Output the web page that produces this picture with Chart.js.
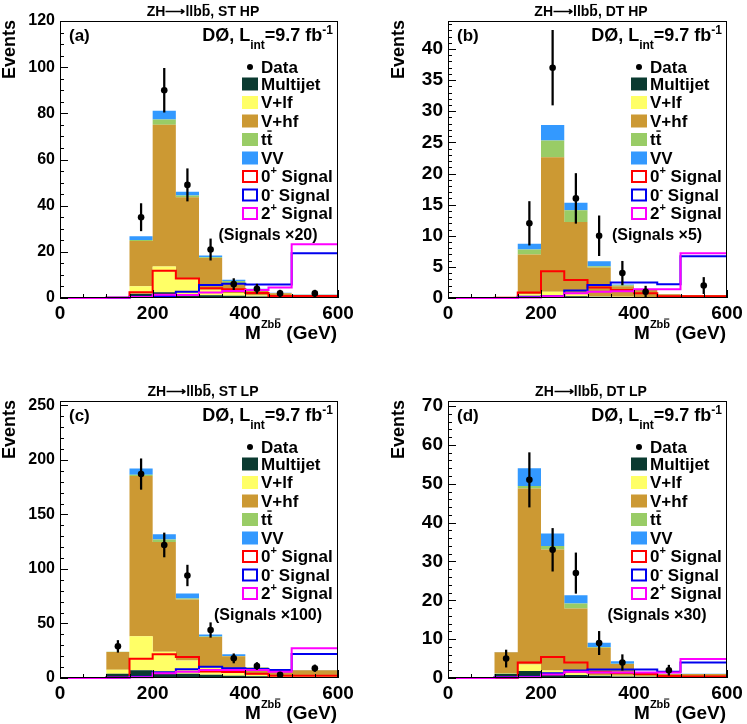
<!DOCTYPE html>
<html>
<head>
<meta charset="utf-8">
<script src="https://cdn.jsdelivr.net/npm/chart.js@4.4.0/dist/chart.umd.min.js"></script>
<style>
  html, body { margin:0; padding:0; background:#fff; }
  #page { position:relative; width:747px; height:724px; overflow:hidden; }
  canvas { position:absolute; }
</style>
</head>
<body>
<div id="page">
  <canvas id="pa" width="373" height="362" style="left:0;top:0"></canvas>
  <canvas id="pb" width="374" height="362" style="left:373px;top:0"></canvas>
  <canvas id="pc" width="373" height="362" style="left:0;top:362px"></canvas>
  <canvas id="pd" width="374" height="362" style="left:373px;top:362px"></canvas>
</div>
<script>
// bin edges of M(Zbb) in GeV, last bin is 100 GeV wide
const edges = [0, 50, 100, 150, 200, 250, 300, 350, 400, 450, 500, 600];

// (a) ST HP  -- backgrounds per bin
const aMultijet = [0, 0, 0.2, 1.8, 2.5, 1.7, 1.2, 1.0, 0.6, 0.4, 0.4];
const aVlf      = [0, 0, 0.1, 3.3, 11.2, 6.5, 2.4, 1.2, 0.5, 0.2, 0.2];
const aVhf      = [0, 0, 0.1, 19.6, 61.4, 35.4, 13.7, 4.0, 2.6, 1.5, 0.7];
const aTt       = [0, 0, 0, 0.4, 2.2, 0.8, 0.3, 1.2, 0.2, 0.1, 0.1];
const aVV       = [0, 0, 0, 1.6, 3.8, 1.6, 0.8, 0.5, 0.1, 0.1, 0.1];
const aSig0p    = [0, 0, 0.1, 2.5, 11.8, 8.5, 4.2, 3.8, 2.2, 0.9, 0.9];
const aSig0m    = [0, 0, 0.1, 0.5, 0.9, 2.7, 5.6, 6.2, 5.8, 5.9, 19.4];
const aSig2p    = [0, 0, 0.1, 0.4, 1.4, 1.3, 2.4, 3.0, 3.5, 4.5, 23.3];
const aDataX    = [175, 225, 275, 325, 375, 425, 475, 550];
const aDataY    = [35, 90, 49, 21, 6, 4, 2, 2];
const aDataErr  = [5.9, 9.5, 7, 4.6, 2.4, 2, 1.4, 1.4];

// (b) DT HP
const bMultijet = [0, 0, 0.05, 0.3, 0.4, 0.3, 0.2, 0.15, 0.1, 0.05, 0.05];
const bVlf      = [0, 0, 0, 0.3, 0.6, 0.3, 0.1, 0.05, 0.05, 0, 0];
const bVhf      = [0, 0, 0.05, 6.4, 21.6, 11.6, 4.6, 1.7, 1.15, 0.55, 0.45];
const bTt       = [0, 0, 0, 0.8, 2.7, 1.9, 0.2, 0.15, 0.05, 0, 0];
const bVV       = [0, 0, 0, 0.9, 2.5, 1.2, 0.8, 0.1, 0.05, 0.05, 0];
const bSig0p    = [0, 0, 0.05, 0.9, 4.3, 2.9, 1.7, 1.3, 0.75, 0.3, 0.3];
const bSig0m    = [0, 0, 0, 0.2, 0.3, 1.2, 2.1, 2.5, 2.5, 2.2, 6.7];
const bSig2p    = [0, 0, 0, 0.1, 0.3, 0.75, 1.0, 1.1, 1.4, 1.4, 7.2];
const bDataX    = [175, 225, 275, 325, 375, 425, 550];
const bDataY    = [12, 37, 16, 10, 4, 1, 2];
const bDataErr  = [3.5, 6, 4, 3.2, 1.9, 0.9, 1.3];

// (c) ST LP
const cMultijet = [0.3, 0.5, 4, 7, 4.6, 4, 3, 2, 1.5, 1, 1];
const cVlf      = [0.2, 0.2, 3.6, 31.2, 19.4, 12, 7, 3.5, 1.5, 1, 1];
const cVhf      = [0.3, 0.3, 16.3, 147.1, 100.8, 56, 27.6, 14.4, 6.5, 5, 5];
const cTt       = [0, 0, 0.1, 1.0, 2.2, 0.8, 0.5, 0.3, 0.3, 0.2, 0.2];
const cVV       = [0, 0, 0, 5.7, 4.8, 4.6, 1.9, 1.5, 0.2, 0.1, 0.1];
const cSig0p    = [0, 0, 0.5, 17.7, 21.7, 19.3, 6, 5.5, 4, 2, 2];
const cSig0m    = [0, 0, 0.5, 1.2, 5.2, 8, 10.4, 8.9, 8.3, 7.3, 22];
const cSig2p    = [0, 0, 0.3, 0.8, 4.3, 5.8, 7.3, 7.3, 7.3, 5.8, 27.2];
const cDataX    = [125, 175, 225, 275, 325, 375, 425, 475, 550];
const cDataY    = [29, 187, 122, 94, 44, 18, 11, 3, 9];
const cDataErr  = [5.4, 14, 11, 9.5, 6.7, 4.2, 3.2, 1.7, 3];

// (d) DT LP
const dMultijet = [0, 0.1, 1.1, 1.8, 1.1, 0.8, 0.6, 0.4, 0.3, 0.2, 0.2];
const dVlf      = [0, 0, 0.2, 1.7, 0.8, 0.4, 0.2, 0.2, 0.1, 0.1, 0.1];
const dVhf      = [0, 0, 5.3, 45.3, 31.2, 16.7, 7.0, 3.0, 1.0, 0.7, 0.7];
const dTt       = [0, 0, 0, 0.6, 0.9, 1.3, 0.2, 0.1, 0, 0, 0];
const dVV       = [0, 0, 0.1, 4.6, 3.2, 2.1, 1.1, 0.6, 0.1, 0.1, 0.1];
const dSig0p    = [0, 0, 0, 4.0, 5.4, 4.0, 1.5, 1.3, 1.0, 0.5, 0.4];
const dSig0m    = [0, 0, 0.2, 0.3, 1.2, 1.9, 2.2, 2.2, 2.2, 1.6, 4.0];
const dSig2p    = [0, 0, 0.1, 0.2, 0.9, 1.6, 1.4, 1.4, 1.4, 1.4, 4.9];
const dDataX    = [125, 175, 225, 275, 325, 375, 475];
const dDataY    = [5, 51, 33, 27, 9, 4, 2];
const dDataErr  = [2.2, 7, 5.5, 5.2, 3, 2, 1.3];

const FONT = '"Liberation Sans", Arial, Helvetica, sans-serif';
const stackColors = ['#0a3a30', '#ffff66', '#cc9933', '#99cc66', '#3399ff'];
const sigColors = { p0: '#ff0000', m0: '#0000ee', p2: '#ff00ff' };

const panels = [
  { id:'pa', tag:'(a)', sel:'ST HP', mult:'20', ymax:120, ystep:20, yminor:5, yfont:16,
    pad:{left:15, right:35, top:21, bottom:24}, evX:15,
    bg:[aMultijet, aVlf, aVhf, aTt, aVV], sig:[aSig0p, aSig0m, aSig2p], dx:aDataX, dy:aDataY, de:aDataErr },
  { id:'pb', tag:'(b)', sel:'DT HP', mult:'5', ymax:44.5, ystep:5, yminor:1, yfont:19,
    pad:{left:30, right:20, top:21, bottom:24}, evX:31,
    bg:[bMultijet, bVlf, bVhf, bTt, bVV], sig:[bSig0p, bSig0m, bSig2p], dx:bDataX, dy:bDataY, de:bDataErr },
  { id:'pc', tag:'(c)', sel:'ST LP', mult:'100', ymax:254, ystep:50, yminor:10, yfont:16,
    pad:{left:15, right:35, top:39, bottom:6}, evX:15,
    bg:[cMultijet, cVlf, cVhf, cTt, cVV], sig:[cSig0p, cSig0m, cSig2p], dx:cDataX, dy:cDataY, de:cDataErr },
  { id:'pd', tag:'(d)', sel:'DT LP', mult:'30', ymax:71.3, ystep:10, yminor:2, yfont:19,
    pad:{left:30, right:20, top:39, bottom:6}, evX:31,
    bg:[dMultijet, dVlf, dVhf, dTt, dVV], sig:[dSig0p, dSig0m, dSig2p], dx:dDataX, dy:dDataY, de:dDataErr }
];

// histogram -> step points: each bin's value at its left edge, last value repeated at 600
// (stepped:'before' keeps a point's value along the run to the next point)
function steps(vals){
  return edges.map((e, i) => ({ x: e, y: vals[Math.min(i, vals.length - 1)] }));
}

// running sums for the stacked backgrounds
function cumulate(layers){
  let run = layers[0].map(() => 0);
  return layers.map(l => { run = run.map((v, i) => v + l[i]); return run.slice(); });
}

// draw a run of text pieces (sizes, super/subscripts, overbars)
function rich(ctx, x, y, parts, align){
  let w = 0;
  parts.forEach(p => {
    ctx.font = 'bold ' + p.s + 'px ' + FONT;
    p.w = ctx.measureText(p.t).width;
    w += p.w;
  });
  let cx = align === 'right' ? x - w : align === 'center' ? x - w / 2 : x;
  ctx.textAlign = 'left';
  ctx.textBaseline = 'alphabetic';
  ctx.fillStyle = '#000';
  parts.forEach(p => {
    const yy = y + (p.dy || 0);
    ctx.font = 'bold ' + p.s + 'px ' + FONT;
    ctx.fillText(p.t, cx, yy);
    if (p.bar) ctx.fillRect(cx + p.w * 0.12, yy - p.s * 0.86, p.w * 0.76, Math.max(1, p.s * 0.08));
    cx += p.w;
  });
}

const overlay = {
  id: 'overlay',
  afterDraw(chart){
    const p = chart.options.plugins.overlay.panel;
    const ctx = chart.ctx;
    const { left: L, right: R, top: T, bottom: B } = chart.chartArea;
    const x = chart.scales.x, y = chart.scales.y;
    ctx.save();

    // frame + inward ticks
    ctx.strokeStyle = '#000';
    ctx.lineWidth = 1;
    ctx.strokeRect(L + 0.5, T + 0.5, R - L - 1, B - T - 1);
    ctx.beginPath();
    for (let v = 0; v <= 600; v += 50) {
      const px = Math.round(x.getPixelForValue(v)) + 0.5;
      ctx.moveTo(px, B);
      ctx.lineTo(px, B - (v % 200 === 0 ? 8 : 4));
    }
    for (let i = 0; i * p.yminor <= p.ymax; i++) {
      const v = i * p.yminor;
      const py = Math.round(y.getPixelForValue(v)) + 0.5;
      const major = Math.abs(v / p.ystep - Math.round(v / p.ystep)) < 1e-6;
      ctx.moveTo(L, py);
      ctx.lineTo(L + (major ? 8 : 4), py);
    }
    ctx.stroke();

    // title
    rich(ctx, L + 143, T - 5, [{t:'ZH\u27f6llb', s:14}, {t:'b', s:14, bar:true}, {t:', ' + p.sel, s:14}], 'center');
    // panel tag + experiment label
    rich(ctx, L + 9, T + 20, [{t:p.tag, s:17}], 'left');
    rich(ctx, R - 5, T + 20, [{t:'D\u00d8, L', s:18}, {t:'int', s:12, dy:8}, {t:'=9.7 fb', s:18}, {t:'-1', s:12, dy:-7}], 'right');

    // legend
    const bx = R - 96, tx = R - 77;
    ctx.fillStyle = '#000';
    ctx.beginPath();
    ctx.arc(R - 88, T + 46, 3, 0, Math.PI * 2);
    ctx.fill();
    rich(ctx, tx, T + 52, [{t:'Data', s:17}], 'left');
    const rows = [
      { c: stackColors[0], parts: [{t:'Multijet', s:17}] },
      { c: stackColors[1], parts: [{t:'V+lf', s:17}] },
      { c: stackColors[2], parts: [{t:'V+hf', s:17}] },
      { c: stackColors[3], parts: [{t:'t', s:17}, {t:'t', s:17, bar:true}] },
      { c: stackColors[4], parts: [{t:'VV', s:17}] },
      { line: sigColors.p0, parts: [{t:'0', s:17}, {t:'+', s:11, dy:-8}, {t:' Signal', s:17}] },
      { line: sigColors.m0, parts: [{t:'0', s:17}, {t:'-', s:11, dy:-8}, {t:' Signal', s:17}] },
      { line: sigColors.p2, parts: [{t:'2', s:17}, {t:'+', s:11, dy:-8}, {t:' Signal', s:17}] }
    ];
    rows.forEach((r, i) => {
      const cy = T + 62.5 + i * 18.5;
      if (r.line) {
        ctx.strokeStyle = r.line;
        ctx.lineWidth = 2;
        ctx.strokeRect(bx + 1, cy - 5, 14, 11);
      } else {
        ctx.fillStyle = r.c;
        ctx.fillRect(bx, cy - 6, 16, 13);
      }
      rich(ctx, tx, cy + 6, r.parts, 'left');
    });
    rich(ctx, R - 70, T + 219, [{t:'(Signals \u00d7' + p.mult + ')', s:16}], 'center');

    // axis titles
    rich(ctx, R - 1, B + 41, [{t:'M', s:19}, {t:'Zb', s:11, dy:-11}, {t:'b', s:11, dy:-11, bar:true}, {t:' (GeV)', s:19}], 'right');
    ctx.save();
    ctx.translate(p.evX, T - 1);
    ctx.rotate(-Math.PI / 2);
    ctx.font = 'bold 18px ' + FONT;
    ctx.textAlign = 'right';
    ctx.textBaseline = 'alphabetic';
    ctx.fillStyle = '#000';
    ctx.fillText('Events', 0, 0);
    ctx.restore();

    ctx.restore();
  }
};

function buildPanel(p){
  const cum = cumulate(p.bg);
  // signal outlines may sit on zero, so let them spill a pixel past the bottom edge
  const sigClip = { left:0, top:0, right:0, bottom:2 };
  const datasets = [
    { type:'line', data: p.dx.map((v, i) => ({ x: v, y: p.dy[i] })), showLine:false,
      pointRadius:3.3, pointBackgroundColor:'#000', pointBorderWidth:0 },
    { type:'bar', data: p.dx.map((v, i) => ({ x: v, y: [p.dy[i] - p.de[i], p.dy[i] + p.de[i]] })),
      backgroundColor:'#000', barThickness:1.6, grouped:false },
    { type:'line', data: steps(p.sig[2]), stepped:'before', borderColor:sigColors.p2, borderWidth:2, pointRadius:0, fill:false, clip:sigClip },
    { type:'line', data: steps(p.sig[1]), stepped:'before', borderColor:sigColors.m0, borderWidth:2, pointRadius:0, fill:false, clip:sigClip },
    { type:'line', data: steps(p.sig[0]), stepped:'before', borderColor:sigColors.p0, borderWidth:2, pointRadius:0, fill:false, clip:sigClip }
  ];
  cum.forEach((vals, k) => {
    datasets.push({ type:'line', data: steps(vals), stepped:'before', borderColor:'transparent', borderWidth:0,
      backgroundColor: stackColors[k], pointRadius:0, fill: k === 0 ? 'origin' : '-1' });
  });

  new Chart(document.getElementById(p.id), {
    type: 'line',
    data: { datasets },
    options: {
      responsive:false, animation:false, devicePixelRatio:1,
      layout: { padding: p.pad },
      plugins: { legend:{display:false}, tooltip:{enabled:false}, overlay:{ panel:p } },
      scales: {
        x: { type:'linear', min:0, max:600, offset:false,
             grid:{display:false, drawTicks:false}, border:{display:false},
             ticks:{ stepSize:200, color:'#000', padding:4, maxRotation:0, autoSkip:false,
                     font:{family:FONT, size:19, weight:'bold'} },
             afterFit(s){ s.height = 40; s.paddingLeft = 0; s.paddingRight = 0; } },
        y: { type:'linear', min:0, max:p.ymax,
             grid:{display:false, drawTicks:false}, border:{display:false},
             ticks:{ stepSize:p.ystep, includeBounds:false, color:'#000', padding:5,
                     font:{family:FONT, size:p.yfont, weight:'bold'} },
             afterFit(s){ s.width = 45; s.paddingTop = 0; s.paddingBottom = 0; } }
      }
    },
    plugins: [overlay]
  });
}

panels.forEach(buildPanel);
</script>
</body>
</html>
